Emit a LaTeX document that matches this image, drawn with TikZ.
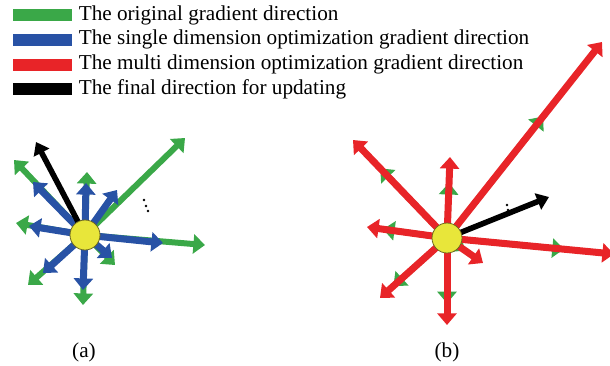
\documentclass[tikz,border=0pt]{standalone}
\usepackage{fontspec}
\setmainfont{Liberation Serif}
\usetikzlibrary{arrows.meta, positioning, calc}

\definecolor{ggreen}{RGB}{58,168,72}
\definecolor{gblue}{RGB}{40,82,165}
\definecolor{gred}{RGB}{232,36,40}
\definecolor{gyellow}{RGB}{232,230,58}

\pgfdeclarelayer{bg}
\pgfsetlayers{bg,main}

\begin{document}
\begin{tikzpicture}[x=0.5pt, y=-0.5pt, font=\fontsize{10.6}{12.4}\selectfont,
    legbar/.style={minimum width=29.5pt, minimum height=6pt, inner sep=0pt},
    legtext/.style={anchor=west, inner sep=3pt},
    ball/.style={circle, minimum size=15pt, inner sep=0pt, fill=gyellow, draw=olive!70!black, line width=0.4pt},
    grad/.style={line width=3pt, -{Triangle[length=5.8pt, width=9.5pt]}},
    final/.style={line width=2.8pt, -{Triangle[length=6pt, width=8.5pt]}}]
    \useasboundingbox (0,0) rectangle (610,365);

    % legend
    \node[legbar, fill=ggreen] (k1) at (42.5,15) {};
    \node[legbar, fill=gblue] (k2) at (42.5,39.5) {};
    \node[legbar, fill=gred] (k3) at (42.5,64.5) {};
    \node[legbar, fill=black] (k4) at (42.5,89) {};
    \node[legtext] (t1) at (k1.east) {The original gradient direction};
    \node[legtext] (t2) at (k2.east) {The single dimension optimization gradient direction};
    \node[legtext] (t3) at (k3.east) {The multi dimension optimization gradient direction};
    \node[legtext] (t4) at (k4.east) {The final direction for updating};

    % (a)
    \node[ball] (balla) at (85,235) {};
    \node (capa) at (84,352) {(a)};
    \begin{pgfonlayer}{bg}
    \foreach \n/\gx/\gy/\bx/\by in {1/185/138/117/190, 2/14/160/33/182, 3/87/172/86/183,
        4/16/223/29/226, 5/205/245/163/243, 6/115/265/112/258, 7/28/285/43/273, 8/83/305/83/290} {
        \coordinate (ga\n) at (\gx,\gy);
        \coordinate (ba\n) at (\bx,\by);
        \draw[grad, ggreen] (balla.center) -- (ga\n);
    }
    \foreach \n in {1,...,8}
        \draw[grad, gblue, line width=3.5pt] (balla.center) -- (ba\n);
    \coordinate (fa) at (36,142);
    \draw[final] (balla.center) -- (fa);
    \end{pgfonlayer}
    \foreach \p in {(144,200), (146,206), (148,211)}
        \fill \p circle (0.7pt);

    % (b)
    \node[ball] (ballb) at (447,238) {};
    \node (capb) at (447,352) {(b)};
    \begin{pgfonlayer}{bg}
    \foreach \n/\rx/\ry/\t in {1/602/42/0.62, 2/353/140/0.71, 3/450/157/0.68, 4/367/227/0.8,
        5/614/254/0.70, 6/483/263/0.5, 7/380/298/0.8, 8/447/325/0.75} {
        \coordinate (rb\n) at (\rx,\ry);
        \coordinate (gb\n) at ($(ballb.center)!\t!(rb\n)$);
        \draw[grad, ggreen] (ballb.center) -- (gb\n);
    }
    \foreach \n in {1,...,8}
        \draw[grad, gred, line width=3.5pt] (ballb.center) -- (rb\n);
    \coordinate (fb) at (549,197);
    \draw[final] (ballb.center) -- (fb);
    \end{pgfonlayer}
    \foreach \p in {(507,205), (508,210)}
        \fill \p circle (0.7pt);
\end{tikzpicture}
\end{document}
